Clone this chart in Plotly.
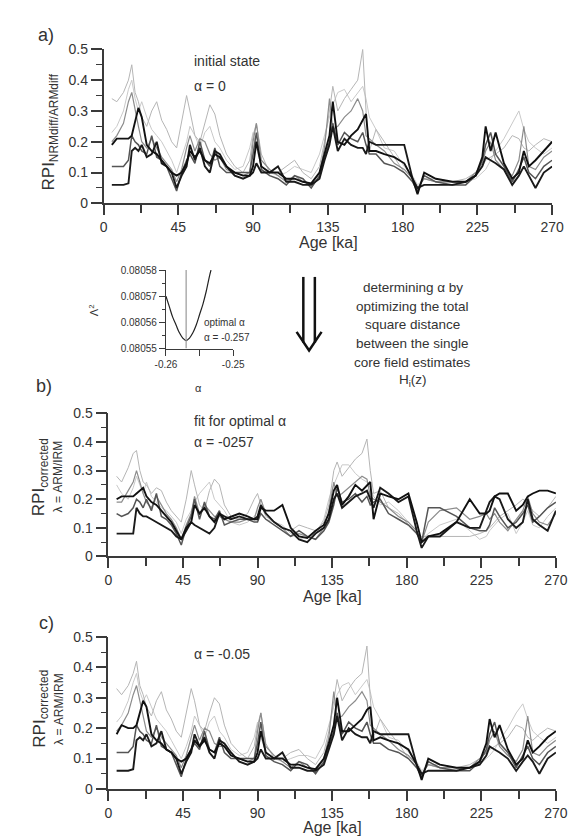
import plotly.graph_objects as go

W, H = 583, 839
OFF = 0
FW, FH = W - OFF, H - OFF

AGE = [5, 8, 12, 15, 17, 19, 21, 23, 26, 29,
       32, 35, 38, 41, 44, 47, 50, 52, 55, 58,
       61, 64, 67, 70, 74, 79, 84, 88, 90, 92,
       95, 100, 105, 110, 115, 120, 125, 130, 133, 136,
       138, 141, 145, 149, 153, 156, 158, 160, 164, 169,
       175, 181, 186, 189, 193, 200, 210, 218, 224, 228,
       230, 233, 236, 241, 246, 250, 253, 256, 260, 265,
       270]

# ---- panel a: initial state, alpha = 0
a_core1 = [0.19,0.21,0.21,0.21,0.22,0.27,0.31,0.28,0.19,0.17, 0.16,0.14,0.12,0.10,0.09,0.10,0.13,0.17,0.15,0.17,
           0.14,0.13,0.16,0.15,0.12,0.10,0.09,0.09,0.12,0.20, 0.12,0.10,0.10,0.08,0.08,0.07,0.065,0.10,0.16,0.22,
           0.33,0.20,0.19,0.22,0.24,0.27,0.29,0.17,0.17,0.16, 0.15,0.13,0.08,0.03,0.10,0.08,0.07,0.07,0.09,0.15,
           0.25,0.17,0.23,0.13,0.08,0.10,0.17,0.12,0.14,0.17, 0.20]
a_core2 = [0.06,0.06,0.06,0.065,0.17,0.18,0.17,0.19,0.15,0.16, 0.20,0.13,0.12,0.10,0.05,0.09,0.12,0.19,0.14,0.18,
           0.12,0.10,0.17,0.16,0.12,0.09,0.08,0.09,0.10,0.13, 0.10,0.10,0.12,0.07,0.07,0.06,0.06,0.08,0.14,0.19,
           0.25,0.17,0.21,0.19,0.18,0.18,0.16,0.20,0.19,0.19, 0.19,0.19,0.08,0.05,0.06,0.06,0.06,0.07,0.09,0.12,
           0.15,0.14,0.13,0.11,0.06,0.09,0.12,0.09,0.05,0.10, 0.12]
a_core3 = [0.12,0.12,0.12,0.14,0.22,0.20,0.19,0.17,0.16,0.22, 0.15,0.14,0.12,0.08,0.04,0.10,0.14,0.16,0.13,0.20,
           0.14,0.12,0.18,0.12,0.10,0.10,0.10,0.10,0.16,0.23, 0.11,0.09,0.08,0.06,0.09,0.08,0.05,0.09,0.15,0.20,
           0.26,0.19,0.23,0.21,0.20,0.23,0.19,0.16,0.16,0.13, 0.12,0.10,0.07,0.04,0.09,0.07,0.06,0.06,0.09,0.14,
           0.19,0.23,0.16,0.12,0.07,0.11,0.15,0.10,0.08,0.12, 0.14]
a_core4 = [0.34,0.33,0.36,0.40,0.45,0.36,0.33,0.28,0.25,0.30, 0.33,0.27,0.24,0.20,0.18,0.26,0.35,0.30,0.22,0.20,
           0.26,0.32,0.29,0.22,0.16,0.12,0.10,0.14,0.22,0.26, 0.16,0.10,0.10,0.12,0.14,0.10,0.08,0.12,0.20,0.30,
           0.38,0.30,0.34,0.37,0.40,0.50,0.30,0.17,0.24,0.20, 0.15,0.10,0.07,0.05,0.08,0.07,0.07,0.08,0.10,0.12,
           0.14,0.15,0.16,0.18,0.22,0.21,0.18,0.17,0.19,0.21, 0.20]
a_core5 = [0.23,0.25,0.30,0.37,0.40,0.34,0.30,0.33,0.28,0.24, 0.22,0.20,0.17,0.14,0.10,0.15,0.20,0.25,0.22,0.18,
           0.23,0.25,0.20,0.18,0.14,0.11,0.12,0.18,0.23,0.18, 0.12,0.10,0.09,0.10,0.12,0.11,0.10,0.16,0.22,0.28,
           0.32,0.36,0.37,0.33,0.36,0.38,0.34,0.28,0.24,0.18, 0.17,0.12,0.09,0.06,0.08,0.08,0.07,0.07,0.08,0.10,
           0.11,0.14,0.17,0.21,0.26,0.30,0.24,0.20,0.18,0.16, 0.18]
a_core6 = [0.20,0.22,0.26,0.33,0.36,0.30,0.25,0.20,0.18,0.21, 0.18,0.15,0.13,0.11,0.07,0.11,0.18,0.22,0.17,0.21,
           0.20,0.16,0.14,0.15,0.11,0.10,0.09,0.10,0.20,0.26, 0.14,0.11,0.09,0.07,0.09,0.07,0.06,0.10,0.18,0.34,
           0.24,0.25,0.28,0.30,0.34,0.30,0.22,0.21,0.19,0.17, 0.13,0.11,0.08,0.05,0.08,0.07,0.07,0.07,0.10,0.13,
           0.17,0.20,0.14,0.11,0.09,0.14,0.25,0.12,0.11,0.15, 0.17]

# ---- panel b: fit for optimal alpha
b_core1 = [0.20,0.21,0.21,0.21,0.22,0.23,0.24,0.21,0.19,0.18, 0.16,0.14,0.12,0.09,0.06,0.10,0.12,0.18,0.15,0.17,
           0.14,0.12,0.15,0.13,0.14,0.15,0.14,0.13,0.13,0.17, 0.16,0.16,0.18,0.10,0.07,0.065,0.09,0.11,0.15,0.23,
           0.25,0.18,0.21,0.25,0.23,0.25,0.26,0.13,0.22,0.21, 0.20,0.22,0.12,0.05,0.07,0.08,0.12,0.20,0.15,0.15,
           0.16,0.21,0.22,0.22,0.16,0.18,0.21,0.22,0.23,0.23, 0.22]
b_core2 = [0.08,0.08,0.08,0.08,0.17,0.15,0.14,0.14,0.13,0.12, 0.11,0.10,0.09,0.07,0.06,0.09,0.12,0.11,0.10,0.09,
           0.08,0.10,0.15,0.14,0.13,0.14,0.13,0.13,0.14,0.18, 0.15,0.12,0.10,0.09,0.06,0.05,0.08,0.10,0.13,0.20,
           0.22,0.17,0.19,0.21,0.22,0.23,0.20,0.17,0.24,0.22, 0.19,0.21,0.09,0.03,0.07,0.07,0.12,0.10,0.10,0.16,
           0.19,0.21,0.20,0.13,0.10,0.12,0.20,0.13,0.11,0.09, 0.16]
b_core3 = [0.15,0.14,0.15,0.17,0.20,0.19,0.17,0.20,0.16,0.22, 0.14,0.13,0.11,0.08,0.04,0.10,0.14,0.20,0.13,0.19,
           0.14,0.13,0.16,0.11,0.12,0.13,0.13,0.12,0.12,0.15, 0.13,0.11,0.09,0.07,0.09,0.07,0.06,0.09,0.12,0.18,
           0.24,0.19,0.20,0.22,0.19,0.21,0.18,0.19,0.20,0.15, 0.13,0.11,0.08,0.05,0.17,0.17,0.14,0.10,0.09,0.09,
           0.11,0.17,0.14,0.10,0.12,0.15,0.18,0.12,0.14,0.17, 0.19]
b_core4 = [0.28,0.26,0.31,0.36,0.37,0.30,0.26,0.25,0.22,0.24, 0.23,0.19,0.16,0.14,0.12,0.20,0.30,0.25,0.18,0.16,
           0.23,0.27,0.25,0.18,0.14,0.13,0.15,0.20,0.22,0.18, 0.14,0.12,0.10,0.09,0.11,0.10,0.09,0.12,0.18,0.30,
           0.33,0.28,0.31,0.34,0.36,0.41,0.30,0.22,0.23,0.17, 0.15,0.11,0.08,0.07,0.07,0.07,0.07,0.07,0.08,0.09,
           0.10,0.12,0.14,0.16,0.18,0.20,0.19,0.16,0.14,0.17, 0.21]
b_core5 = [0.25,0.22,0.20,0.24,0.28,0.25,0.22,0.26,0.21,0.19, 0.17,0.16,0.14,0.12,0.08,0.13,0.16,0.19,0.22,0.24,
           0.26,0.20,0.18,0.16,0.12,0.11,0.12,0.14,0.16,0.15, 0.13,0.12,0.11,0.08,0.06,0.07,0.08,0.13,0.20,0.25,
           0.28,0.32,0.32,0.29,0.27,0.26,0.24,0.21,0.18,0.19, 0.16,0.12,0.08,0.06,0.08,0.11,0.13,0.09,0.06,0.07,
           0.09,0.11,0.13,0.15,0.08,0.12,0.16,0.11,0.10,0.14, 0.17]
b_core6 = [0.19,0.19,0.23,0.26,0.30,0.26,0.22,0.19,0.17,0.21, 0.18,0.15,0.13,0.10,0.06,0.11,0.15,0.21,0.15,0.18,
           0.16,0.14,0.14,0.13,0.12,0.12,0.13,0.13,0.17,0.20, 0.15,0.12,0.10,0.07,0.08,0.07,0.06,0.10,0.16,0.26,
           0.21,0.22,0.24,0.26,0.28,0.27,0.21,0.20,0.19,0.17, 0.14,0.12,0.09,0.05,0.12,0.16,0.17,0.13,0.14,0.15,
           0.13,0.15,0.12,0.09,0.13,0.16,0.21,0.15,0.12,0.11, 0.15]

# ---- panel c: alpha = -0.05
c_core1 = [0.18,0.21,0.20,0.20,0.21,0.25,0.29,0.27,0.18,0.16, 0.15,0.13,0.12,0.10,0.09,0.10,0.13,0.16,0.14,0.16,
           0.13,0.12,0.15,0.14,0.11,0.10,0.09,0.09,0.12,0.19, 0.12,0.10,0.10,0.08,0.08,0.07,0.065,0.10,0.15,0.21,
           0.30,0.19,0.19,0.21,0.23,0.26,0.27,0.16,0.17,0.16, 0.15,0.13,0.08,0.03,0.10,0.08,0.07,0.07,0.09,0.15,
           0.23,0.17,0.21,0.13,0.08,0.10,0.16,0.12,0.14,0.17, 0.19]
c_core2 = [0.06,0.06,0.06,0.065,0.16,0.17,0.16,0.18,0.14,0.15, 0.19,0.13,0.12,0.10,0.05,0.09,0.12,0.18,0.14,0.17,
           0.12,0.10,0.16,0.15,0.12,0.09,0.08,0.09,0.10,0.13, 0.10,0.10,0.12,0.07,0.07,0.06,0.06,0.08,0.13,0.18,
           0.24,0.16,0.20,0.18,0.17,0.17,0.15,0.19,0.18,0.18, 0.18,0.18,0.08,0.05,0.06,0.06,0.06,0.07,0.08,0.11,
           0.14,0.13,0.12,0.10,0.06,0.09,0.11,0.09,0.05,0.10, 0.12]
c_core3 = [0.12,0.12,0.12,0.14,0.21,0.19,0.18,0.16,0.15,0.21, 0.14,0.13,0.12,0.08,0.04,0.10,0.13,0.15,0.13,0.19,
           0.13,0.12,0.17,0.12,0.10,0.10,0.10,0.10,0.15,0.22, 0.11,0.09,0.08,0.06,0.09,0.08,0.05,0.09,0.14,0.19,
           0.25,0.18,0.22,0.20,0.19,0.22,0.18,0.15,0.15,0.13, 0.12,0.10,0.07,0.04,0.09,0.07,0.06,0.06,0.09,0.13,
           0.18,0.22,0.15,0.12,0.07,0.11,0.14,0.10,0.08,0.12, 0.14]
c_core4 = [0.33,0.31,0.34,0.38,0.42,0.34,0.31,0.27,0.24,0.29, 0.32,0.26,0.23,0.19,0.17,0.25,0.33,0.29,0.21,0.19,
           0.25,0.30,0.28,0.21,0.15,0.12,0.10,0.14,0.21,0.25, 0.15,0.10,0.10,0.12,0.13,0.10,0.08,0.12,0.19,0.29,
           0.36,0.29,0.33,0.36,0.38,0.47,0.30,0.17,0.23,0.19, 0.15,0.10,0.07,0.05,0.08,0.07,0.07,0.08,0.10,0.12,
           0.13,0.14,0.15,0.17,0.21,0.20,0.17,0.16,0.18,0.20, 0.19]
c_core5 = [0.22,0.24,0.29,0.35,0.38,0.32,0.29,0.31,0.27,0.23, 0.21,0.19,0.16,0.13,0.10,0.14,0.19,0.24,0.21,0.17,
           0.22,0.24,0.19,0.17,0.13,0.11,0.12,0.17,0.22,0.17, 0.12,0.10,0.09,0.10,0.11,0.11,0.10,0.15,0.21,0.27,
           0.31,0.34,0.35,0.31,0.34,0.36,0.32,0.27,0.23,0.17, 0.16,0.12,0.09,0.06,0.08,0.08,0.07,0.07,0.08,0.10,
           0.11,0.13,0.16,0.20,0.25,0.28,0.23,0.19,0.17,0.15, 0.17]
c_core6 = [0.19,0.21,0.25,0.31,0.34,0.29,0.24,0.19,0.17,0.20, 0.17,0.15,0.13,0.11,0.07,0.11,0.17,0.21,0.16,0.20,
           0.19,0.15,0.14,0.14,0.11,0.10,0.09,0.10,0.19,0.25, 0.14,0.11,0.09,0.07,0.09,0.07,0.06,0.10,0.17,0.32,
           0.23,0.24,0.27,0.29,0.32,0.29,0.21,0.20,0.18,0.16, 0.13,0.11,0.08,0.05,0.08,0.07,0.07,0.07,0.10,0.12,
           0.16,0.19,0.14,0.11,0.09,0.13,0.24,0.12,0.11,0.14, 0.16]

# ---- inset: misfit vs alpha
ALPHA = [-0.2600, -0.2595, -0.2590, -0.2585, -0.2580, -0.2575, -0.2570, -0.2565,
         -0.2560, -0.2555, -0.2550, -0.2545, -0.2540, -0.2535, -0.2533]
LAMBDA2 = [0.080570, 0.080566, 0.080562, 0.080559, 0.080556, 0.080554, 0.080553, 0.080554,
           0.080556, 0.080559, 0.080563, 0.080567, 0.080572, 0.080578, 0.080580]
ALPHA_OPT = -0.257

X_TICKS = [0, 45, 90, 135, 180, 225, 270]
Y_TICKS = [0, 0.1, 0.2, 0.3, 0.4, 0.5]
INSET_Y_TICKS = [0.08055, 0.08056, 0.08057, 0.08058]
INSET_X_TICKS = [-0.26, -0.25]

for arr in [a_core1, a_core2, a_core3, a_core4, a_core5, a_core6,
            b_core1, b_core2, b_core3, b_core4, b_core5, b_core6,
            c_core1, c_core2, c_core3, c_core4, c_core5, c_core6]:
    assert len(arr) == len(AGE), len(arr)

def px(x):
    return (x - OFF) / FW

def py(y):
    return 1 - (y - OFF) / FH

FONT = "Liberation Sans, Arial, sans-serif"
AX = "#3a3a3a"
TXT = "#333333"

# style order: light first, black last
STYLES = [("#c9c9c9", 1.0), ("#b5b5b5", 1.0), ("#8c8c8c", 1.2), ("#555555", 1.5), ("#1a1a1a", 1.9), ("#111111", 1.9)]

fig = go.Figure()

panels = [
    ("x", "y", [a_core5, a_core4, a_core6, a_core3, a_core2, a_core1]),
    ("x2", "y2", [b_core5, b_core4, b_core6, b_core3, b_core2, b_core1]),
    ("x3", "y3", [c_core5, c_core4, c_core6, c_core3, c_core2, c_core1]),
]
for xa, ya, series in panels:
    for s, (col, w) in zip(series, STYLES):
        fig.add_trace(go.Scatter(x=AGE, y=s, mode="lines", xaxis=xa, yaxis=ya,
                                 line=dict(color=col, width=w), showlegend=False,
                                 hoverinfo="skip"))

fig.add_trace(go.Scatter(x=ALPHA, y=LAMBDA2, mode="lines", xaxis="x4", yaxis="y4",
                         line=dict(color="#222222", width=1.2, shape="spline"), showlegend=False))
fig.add_trace(go.Scatter(x=[ALPHA_OPT, ALPHA_OPT], y=[INSET_Y_TICKS[0], INSET_Y_TICKS[-1]], mode="lines",
                         xaxis="x4", yaxis="y4", line=dict(color="#999999", width=1.2), showlegend=False))

def xaxis_cfg(domain, anchor):
    return dict(domain=domain, anchor=anchor, range=[0, 270], tickvals=X_TICKS,
                showline=True, linecolor=AX, linewidth=1.5, ticks="outside", ticklen=10,
                tickwidth=1.5, tickcolor=AX, showgrid=False, zeroline=False,
                minor=dict(dtick=22.5, tick0=0, ticks="outside", ticklen=8, tickwidth=1.5, tickcolor=AX),
                tickfont=dict(family=FONT, size=14, color=TXT), fixedrange=True)

def yaxis_cfg(domain, anchor):
    return dict(domain=domain, anchor=anchor, range=[0, 0.5], tickvals=Y_TICKS,
                ticktext=["0", "0.1", "0.2", "0.3", "0.4", "0.5"],
                showline=True, linecolor=AX, linewidth=1.5, ticks="outside", ticklen=11,
                tickwidth=1.5, tickcolor=AX, showgrid=False, zeroline=False,
                minor=dict(dtick=0.05, tick0=0, ticks="outside", ticklen=6, tickwidth=1.2, tickcolor=AX),
                tickfont=dict(family=FONT, size=14, color=TXT), fixedrange=True)

fig.update_layout(
    width=FW, height=FH, margin=dict(l=0, r=0, t=0, b=0),
    paper_bgcolor="white", plot_bgcolor="white",
    xaxis=xaxis_cfg([px(88), px(555)], "y"),
    yaxis=yaxis_cfg([py(191), py(34)], "x"),
    xaxis2=xaxis_cfg([px(93), px(559)], "y2"),
    yaxis2=yaxis_cfg([py(551), py(405)], "x2"),
    xaxis3=xaxis_cfg([px(93), px(559)], "y3"),
    yaxis3=yaxis_cfg([py(788), py(633)], "x3"),
    xaxis4=dict(domain=[px(153), px(223)], anchor="y4", range=[-0.26, -0.25], tickvals=INSET_X_TICKS,
                ticktext=["-0.26", "-0.25"],
                showline=True, linecolor=AX, linewidth=1.2, ticks="outside", ticklen=6, tickwidth=1.2,
                tickcolor=AX, showgrid=False, zeroline=False,
                minor=dict(dtick=0.005, tick0=-0.26, ticks="outside", ticklen=6, tickwidth=1.2, tickcolor=AX),
                tickfont=dict(family=FONT, size=10, color=TXT), fixedrange=True),
    yaxis4=dict(domain=[py(339), py(259)], anchor="x4", range=[0.08055, 0.08058], tickvals=INSET_Y_TICKS,
                ticktext=["0.08055", "0.08056", "0.08057", "0.08058"],
                showline=True, linecolor=AX, linewidth=1.2, ticks="outside", ticklen=6, tickwidth=1.2,
                tickcolor=AX, showgrid=False, zeroline=False,
                minor=dict(dtick=0.000005, tick0=0.08055, ticks="outside", ticklen=3, tickwidth=1, tickcolor=AX),
                tickfont=dict(family=FONT, size=10, color=TXT), fixedrange=True),
)

def ann(text, x, y, size, xanchor="center", angle=0, color=TXT):
    fig.add_annotation(text=text, x=px(x), y=py(y), xref="paper", yref="paper",
                       xanchor=xanchor, yanchor="middle", showarrow=False, textangle=angle,
                       font=dict(family=FONT, size=size, color=color))

# panel labels
ann("a)", 28, 19, 18)
ann("b)", 26, 377, 18)
ann("c)", 29, 619, 18)

# x titles
ann("Age [ka]", 322, 231, 16)
ann("Age [ka]", 326, 592, 16)
ann("Age [ka]", 326, 827, 16)

# y titles
ann("RPI<sub>NRMdiff/ARMdiff</sub>", 32, 118, 17, angle=-90)
ann("RPI<sub>corrected</sub>", 22, 470, 17, angle=-90)
ann("λ = ARM/IRM", 41, 469, 12, angle=-90)
ann("RPI<sub>corrected</sub>", 22, 706, 17, angle=-90)
ann("λ = ARM/IRM", 41, 706, 12, angle=-90)

# in-panel labels
ann("initial state", 180, 46, 14, xanchor="left")
ann("α = 0", 180, 71, 14, xanchor="left")
ann("fit for optimal α", 180, 413, 14, xanchor="left")
ann("α = -0257", 180, 434, 14, xanchor="left")
ann("α = -0.05", 180, 650, 14, xanchor="left")

# inset labels
ann("Λ<sup>2</sup>", 78, 300, 11, angle=-90)
ann("α", 187, 379, 11)
ann("optimal α", 190, 312, 10, xanchor="left")
ann("α = -0.257", 191, 328, 10, xanchor="left")

# right text
lines = ["determining α by", "optimizing the total", "square distance",
         "between the single", "core field estimates", "H<sub>i</sub>(z)"]
for i, t in enumerate(lines):
    ann(t, 410, 277 + i * 19, 13.5)

# double arrow
fig.add_shape(type="line", xref="paper", yref="paper", x0=px(296), x1=px(296), y0=py(266), y1=py(333),
              line=dict(color="#111111", width=2.5))
fig.add_shape(type="line", xref="paper", yref="paper", x0=px(308), x1=px(308), y0=py(266), y1=py(333),
              line=dict(color="#111111", width=2.5))
fig.add_shape(type="path", xref="paper", yref="paper",
              path=f"M {px(289)} {py(322)} L {px(302)} {py(341)} L {px(315)} {py(322)}",
              line=dict(color="#111111", width=2.5))

fig.write_html("out.html")
